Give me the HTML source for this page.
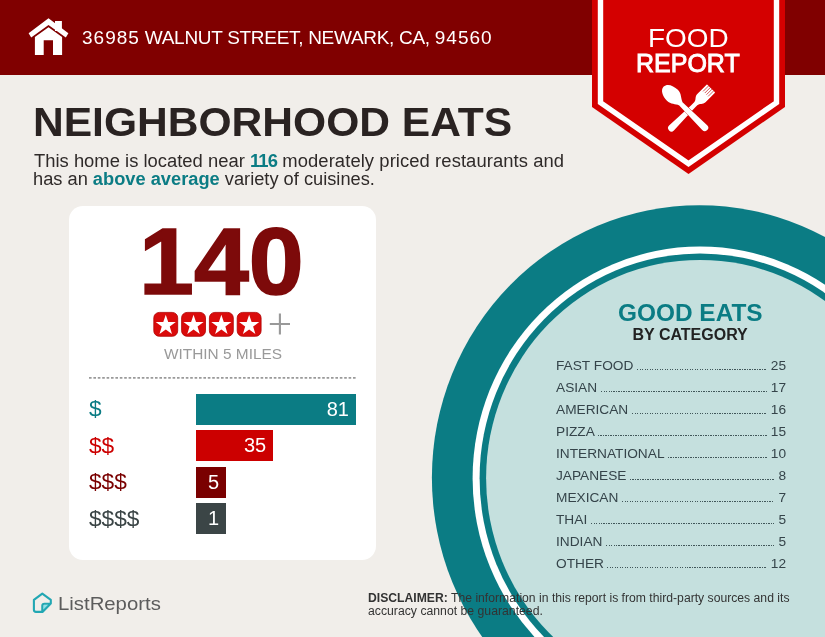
<!DOCTYPE html>
<html lang="en">
<head>
<meta charset="utf-8">
<title>Neighborhood Eats - Food Report</title>
<style>
html,body{margin:0;padding:0;}
body{width:825px;height:637px;position:relative;overflow:hidden;background:#f1eeea;font-family:"Liberation Sans",sans-serif;color:#2a2422;}
.abs{position:absolute;white-space:nowrap;line-height:1;transform-origin:left top;}
#hdr{position:absolute;left:0;top:0;width:825px;height:74.5px;background:#800000;}
#art{position:absolute;left:0;top:0;width:825px;height:637px;}
#addr{left:82px;top:28px;font-size:19px;color:#fff;letter-spacing:-0.3px;}
.dg{letter-spacing:1px;}
#food{left:647.8px;top:26px;font-size:25px;color:#fff;transform:scaleX(1.116);}
#report{left:636px;top:51px;font-size:25px;color:#fff;-webkit-text-stroke:0.9px #fff;}
#title{left:33px;top:102.3px;font-size:41px;transform:scaleX(1.038);font-weight:bold;color:#2a2322;}
#p1{left:33.5px;top:151.6px;font-size:18px;color:#2f2a29;transform:scaleX(1.0226);}
#p2{left:33.3px;top:169.6px;font-size:18px;color:#2f2a29;transform:scaleX(1.014);}
.tl{color:#0b7c84;font-weight:bold;}
#card{position:absolute;left:69px;top:206px;width:307px;height:354px;background:#fff;border-radius:14px;}
#big{left:139px;top:214.6px;font-size:94px;transform:scaleX(1.05);-webkit-text-stroke:1.6px #7d0a0a;font-weight:bold;color:#7d0a0a;}
#within{left:163.8px;top:346.6px;font-size:14px;color:#999;transform:scaleX(1.1);}
.bar{position:absolute;left:196px;height:31px;color:#fff;font-size:20px;line-height:31px;text-align:right;box-sizing:border-box;padding-right:7px;}
.pl{font-size:22px;transform:scaleX(1.03);}
.row{position:absolute;left:556px;width:230px;height:16px;display:flex;align-items:baseline;font-size:13.7px;line-height:16px;color:#35444a;white-space:nowrap;}
.row i{flex:1;margin:0 4px 0 3.5px;height:1.7px;align-self:flex-end;position:relative;top:-4px;background:repeating-linear-gradient(90deg,#41575a 0,#41575a 1.4px,transparent 1.4px,transparent 2.5px);}
#ge{left:618px;top:300.5px;font-size:24px;transform:scaleX(1.017);font-weight:bold;color:#0b7c84;}
#bc{left:632.5px;top:326.6px;font-size:16px;font-weight:bold;color:#222;}
#lr{left:58px;top:593.8px;font-size:19px;color:#5c5c5c;transform:scaleX(1.07);}
#d1{left:367.5px;top:592px;font-size:12px;color:#333;transform:scaleX(1.015);}
#d2{left:367.5px;top:604.5px;font-size:12px;color:#333;transform:scaleX(1.02);}
</style>
</head>
<body>
<div id="hdr"></div>
<div id="card"></div>
<svg id="art" viewBox="0 0 825 637">
  <!-- plate -->
  <ellipse cx="699.5" cy="477.8" rx="267.6" ry="272.6" fill="#0b7c84"/>
  <ellipse cx="700" cy="478.2" rx="227.4" ry="231.6" fill="#ffffff"/>
  <ellipse cx="700" cy="478.2" rx="220.4" ry="224.7" fill="#0b7c84"/>
  <ellipse cx="700" cy="478.2" rx="213.9" ry="218.3" fill="#c5e0de"/>
  <!-- banner -->
  <polygon points="592,0 785,0 785,107 688.5,174 592,107" fill="#d40000"/>
  <polyline points="600.5,-5 600.5,102.6 688.5,163.6 776.5,102.6 776.5,-5" fill="none" stroke="#fff" stroke-width="5.4" stroke-linejoin="miter"/>
  <!-- house -->
  <g fill="#fff">
    <polygon points="48.5,18.2 68.4,33.3 65.8,37.5 48.5,25.1 31.2,37.5 28.6,33.3"/>
    <rect x="55" y="21" width="6.9" height="10"/>
    <path d="M48.5,27.3 L62.1,37 L62.1,55.1 L53,55.1 L53,40.2 L43.7,40.2 L43.7,55.1 L34.9,55.1 L34.9,37 Z"/>
  </g>
  <!-- spoon & fork -->
  <g transform="translate(688.3,111.2)" fill="#fff">
    <g transform="rotate(45)">
      <path d="M-5.8,-31.6 Q-5.8,-32.2 -5.2,-32.2 L5.2,-32.2 Q5.8,-32.2 5.8,-31.6 L5.8,-18.5 C5.8,-14.5 2.2,-14 2.2,-10.5 L2.2,-6 L3.4,23.8 A3.4,3.4 0 0 1 -3.4,23.8 L-2.2,-6 L-2.2,-10.5 C-2.2,-14 -5.8,-14.5 -5.8,-18.5 Z"/>
      <path d="M-3.55,-32.5 V-24.5 M-1.18,-32.5 V-24.5 M1.18,-32.5 V-24.5 M3.55,-32.5 V-24.5" stroke="#c01010" stroke-width="0.65" fill="none"/>
    </g>
    <g transform="rotate(-45)">
      <path d="M0,-34.8 C5,-34.8 7.7,-28.5 7.7,-22.5 C7.7,-17 3.6,-14.5 2.3,-10.5 L3.5,23.2 A3.5,3.5 0 0 1 -3.5,23.2 L-2.3,-10.5 C-3.6,-14.5 -7.7,-17 -7.7,-22.5 C-7.7,-28.5 -5,-34.8 0,-34.8 Z" stroke="#c01010" stroke-width="0.7" paint-order="stroke"/>
    </g>
  </g>
  <!-- stars -->
  <g fill="#da0b0b" stroke="#b00000" stroke-width="0.8">
    <rect x="153.8" y="312.4" width="23.9" height="23.9" rx="5.5"/>
    <rect x="181.6" y="312.4" width="23.9" height="23.9" rx="5.5"/>
    <rect x="209.4" y="312.4" width="23.9" height="23.9" rx="5.5"/>
    <rect x="237.2" y="312.4" width="23.9" height="23.9" rx="5.5"/>
  </g>
  <g fill="#fff">
    <path id="st" transform="translate(165.75,325.3)" d="M0.00,-10.60 L2.47,-3.40 L10.08,-3.28 L3.99,1.30 L6.23,8.58 L0.00,4.20 L-6.23,8.58 L-3.99,1.30 L-10.08,-3.28 L-2.47,-3.40 Z"/>
    <use href="#st" x="27.8"/>
    <use href="#st" x="55.6"/>
    <use href="#st" x="83.4"/>
  </g>
  <path d="M269.8,324 H290 M279.9,313.4 V334.6" stroke="#999" stroke-width="2.1" fill="none"/>
  <line x1="89" y1="377.9" x2="356" y2="377.9" stroke="#9a9a9a" stroke-width="1.8" stroke-dasharray="2.6 1.8"/>
  <!-- logo mark -->
  <path d="M43.4,604.8 L50.6,604.8 L43.4,611.6 Z" fill="#6fdbe6" opacity="0.75"/>
  <path d="M42.3,593.6 L50.8,599.9 L50.8,603.6 L42.5,611.9 L36,611.9 Q33.9,611.9 33.9,609.8 L33.9,599.9 Z M42.3,611.8 L42.3,605.8 Q42.3,603.7 44.4,603.7 L50.6,603.7" fill="none" stroke="#22a7b3" stroke-width="2.1" stroke-linejoin="round" stroke-linecap="round"/>
</svg>

<div class="abs" id="addr"><span class="dg">36985</span> WALNUT STREET, NEWARK, CA, <span class="dg">94560</span></div>
<div class="abs" id="food">FOOD</div>
<div class="abs" id="report">REPORT</div>
<div class="abs" id="title">NEIGHBORHOOD EATS</div>
<div class="abs" id="p1">This home is located near <span class="tl" style="letter-spacing:-0.8px;">116</span><span style="letter-spacing:0.075px;"> moderately priced restaurants and</span></div>
<div class="abs" id="p2">has an <span class="tl">above average</span> variety of cuisines.</div>
<div class="abs" id="big">140</div>
<div class="abs" id="within">WITHIN 5 MILES</div>
<div class="abs pl" style="left:89px;top:398px;color:#0b7c84;">$</div>
<div class="abs pl" style="left:89px;top:434.5px;color:#cc0000;">$$</div>
<div class="abs pl" style="left:89px;top:471px;color:#7a0000;">$$$</div>
<div class="abs pl" style="left:89px;top:507.5px;color:#3b4546;">$$$$</div>
<div class="bar" style="top:394px;width:160px;background:#0b7c84;">81</div>
<div class="bar" style="top:430.4px;width:77.2px;background:#cc0000;">35</div>
<div class="bar" style="top:466.8px;width:30px;background:#7a0000;">5</div>
<div class="bar" style="top:503.2px;width:30px;background:#3b4546;">1</div>
<div class="abs" id="ge">GOOD EATS</div>
<div class="abs" id="bc">BY CATEGORY</div>
<div class="row" style="top:358.4px;"><span>FAST FOOD</span><i></i><span>25</span></div>
<div class="row" style="top:380.4px;"><span>ASIAN</span><i></i><span>17</span></div>
<div class="row" style="top:402.4px;"><span>AMERICAN</span><i></i><span>16</span></div>
<div class="row" style="top:424.4px;"><span>PIZZA</span><i></i><span>15</span></div>
<div class="row" style="top:446.4px;"><span>INTERNATIONAL</span><i></i><span>10</span></div>
<div class="row" style="top:468.4px;"><span>JAPANESE</span><i></i><span>8</span></div>
<div class="row" style="top:490.4px;"><span>MEXICAN</span><i></i><span>7</span></div>
<div class="row" style="top:512.4px;"><span>THAI</span><i></i><span>5</span></div>
<div class="row" style="top:534.4px;"><span>INDIAN</span><i></i><span>5</span></div>
<div class="row" style="top:556.4px;"><span>OTHER</span><i></i><span>12</span></div>
<div class="abs" id="lr">ListReports</div>
<div class="abs" id="d1"><b>DISCLAIMER:</b> The information in this report is from third-party sources and its</div>
<div class="abs" id="d2">accuracy cannot be guaranteed.</div>
</body>
</html>
